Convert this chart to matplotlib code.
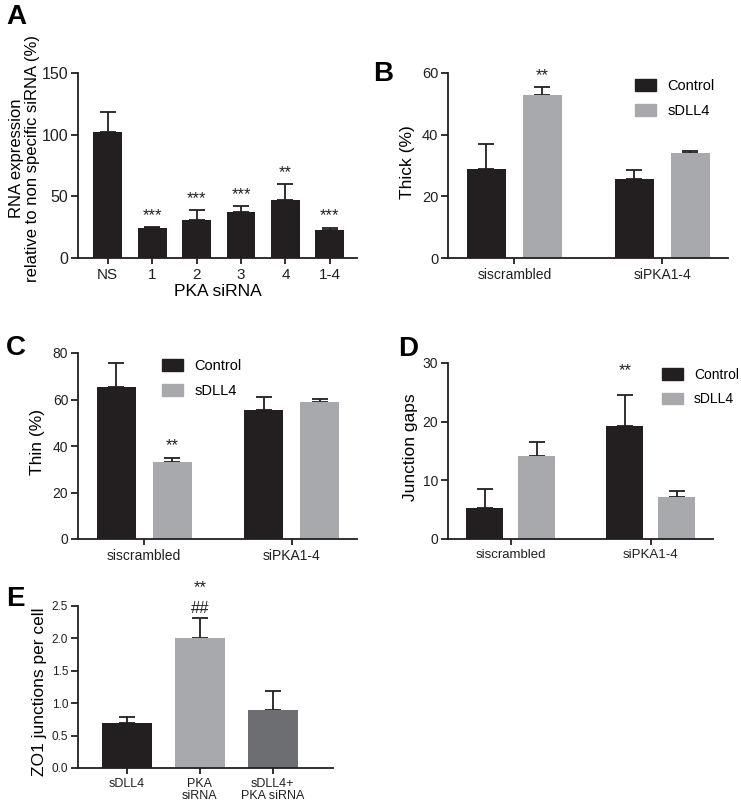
import matplotlib
matplotlib.use("Agg")
import matplotlib.pyplot as plt
from matplotlib.patches import Patch
import numpy as np

plt.rcParams['font.family'] = ['Liberation Sans', 'DejaVu Sans']

BLACK = "#231f20"
LGRAY = "#a7a9ac"
DGRAY = "#6d6e71"

# panel A
a_labels = ["NS", "1", "2", "3", "4", "1-4"]
a_vals = [102, 24, 31, 37, 47, 23]
a_err = [16, 1, 8, 5, 13, 1.5]
a_stars = ["", "***", "***", "***", "**", "***"]

# panels B-D share groups
groups = ["siscrambled", "siPKA1-4"]
series = ["Control", "sDLL4"]
b_ctrl = [29, 25.5]
b_ctrl_err = [8, 3]
b_dll4 = [53, 34]
b_dll4_err = [2.5, 0.6]
c_ctrl = [65.5, 55.5]
c_ctrl_err = [10, 5.5]
c_dll4 = [33, 59]
c_dll4_err = [2, 1.3]
d_ctrl = [5.3, 19.3]
d_ctrl_err = [3.3, 5.2]
d_dll4 = [14.2, 7.2]
d_dll4_err = [2.3, 0.9]

# panel E
e_labels = ["sDLL4", "PKA\nsiRNA", "sDLL4+\nPKA siRNA"]
e_vals = [0.7, 2.0, 0.9]
e_err = [0.09, 0.31, 0.29]

W, H = 741, 801
fig = plt.figure(figsize=(W / 100, H / 100), dpi=100)


def add_ax(x0, x1, ytop, ybot):
    return fig.add_axes([x0 / W, 1 - ybot / H, (x1 - x0) / W, (ybot - ytop) / H])


def style(ax, ysize, xsize):
    for s in ["top", "right"]:
        ax.spines[s].set_visible(False)
    for s in ["left", "bottom"]:
        ax.spines[s].set_linewidth(1.3)
        ax.spines[s].set_color(BLACK)
    ax.tick_params(axis="both", width=1.3, colors=BLACK)
    ax.tick_params(axis="y", length=5, pad=2, labelsize=ysize)
    ax.tick_params(axis="x", length=4, pad=3, labelsize=xsize)


def bars(ax, x, vals, err, color, width):
    ax.bar(x, vals, width=width, color=color, zorder=2)
    ax.errorbar(x, vals, yerr=[np.zeros(len(vals)), err], fmt="none",
                ecolor=BLACK, elinewidth=1.3, capsize=6, capthick=1.3, zorder=1)


def star(ax, x, y, s, off=2, size=12):
    ax.annotate(s, (x, y), xytext=(0, off), textcoords="offset points",
                ha="center", va="bottom", fontsize=size, color=BLACK)


def legend(ax, fx, fy, size=10.5):
    handles = [Patch(color=BLACK, label=series[0]), Patch(color=LGRAY, label=series[1])]
    ax.legend(handles=handles, loc="upper left", bbox_to_anchor=(fx / W, 1 - fy / H),
              bbox_transform=fig.transFigure, frameon=False, fontsize=size,
              handlelength=1.45 * 10.5 / size, handleheight=0.85 * 10.5 / size,
              handletextpad=0.75 * 10.5 / size,
              labelspacing=0.75, borderpad=0, borderaxespad=0)


def ylab(ax, text, xr, yc=0.5, size=12.5):
    ax.set_ylabel(text, fontsize=size, linespacing=1.15)
    ax.yaxis.set_label_coords(xr, yc)


# ---- A
ax = add_ax(78, 357, 73, 258)
xa = np.arange(len(a_labels))
bars(ax, xa, a_vals, a_err, BLACK, 0.65)
for i, s in enumerate(a_stars):
    if s:
        star(ax, xa[i], a_vals[i] + a_err[i], s, off=3)
ax.set_xlim(-0.67, 5.61)
ax.set_ylim(0, 150)
ax.set_yticks([0, 50, 100, 150])
ax.set_xticks(xa)
ax.set_xticklabels(a_labels)
ax.set_xlabel("PKA siRNA", fontsize=12.5, labelpad=2)
ylab(ax, "RNA expression\nrelative to non specific siRNA (%)", -0.135, 0.54, 12)
style(ax, 11.5, 11)

# ---- B, C, D
xg = np.arange(len(groups))
panels = [
    (add_ax(448, 728, 73, 258), b_ctrl, b_ctrl_err, b_dll4, b_dll4_err, 60, 20, "Thick (%)", 0.189, -0.118, 10.5, 10),
    (add_ax(78, 357, 353, 539), c_ctrl, c_ctrl_err, c_dll4, c_dll4_err, 80, 20, "Thin (%)", 0.19, -0.118, 10, 10),
    (add_ax(448, 713, 363, 539), d_ctrl, d_ctrl_err, d_dll4, d_dll4_err, 30, 10, "Junction gaps", 0.186, -0.113, 10, 9.5),
]
for ax, cv, ce, dv, de, ymax, step, lab, off, lx, ys, xs in panels:
    bars(ax, xg - off, cv, ce, BLACK, 0.264)
    bars(ax, xg + off, dv, de, LGRAY, 0.264)
    ax.set_xlim(-0.448, 1.443)
    ax.set_ylim(0, ymax)
    ax.set_yticks(np.arange(0, ymax + 1, step))
    ax.set_xticks(xg)
    ax.set_xticklabels(groups)
    ylab(ax, lab, lx, 0.52, 12.5)
    style(ax, ys, xs)

axB, axC, axD = panels[0][0], panels[1][0], panels[2][0]
star(axB, 0.189, b_dll4[0] + b_dll4_err[0], "**", off=3)
star(axC, 0.19, c_dll4[0] + c_dll4_err[0], "**", off=3)
star(axD, 1 - 0.186, d_ctrl[1] + d_ctrl_err[1], "**", off=12)
legend(axB, 635, 79)
legend(axC, 162, 359)
legend(axD, 662, 368, 10)

# ---- E
ax = add_ax(78, 333, 606, 768)
xe = np.arange(len(e_labels))
ax.bar(xe, e_vals, width=0.687, color=[BLACK, LGRAY, DGRAY], zorder=2)
ax.errorbar(xe, e_vals, yerr=[np.zeros(3), e_err], fmt="none", ecolor=BLACK,
            elinewidth=1.3, capsize=6, capthick=1.3, zorder=1)
ax.set_xlim(-0.674, 2.83)
ax.set_ylim(0, 2.5)
ax.set_yticks(np.arange(0, 2.51, 0.5))
ax.set_yticklabels([f"{v:.1f}" for v in np.arange(0, 2.51, 0.5)])
ax.set_xticks(xe)
ax.set_xticklabels(e_labels, linespacing=1.0)
ylab(ax, "ZO1 junctions per cell", -0.12, 0.47, 12.5)
style(ax, 8.5, 9)
star(ax, 1, e_vals[1] + e_err[1], "##", off=2)
star(ax, 1, e_vals[1] + e_err[1], "**", off=17)

# panel letters
for letter, px, py in [("A", 6, 4), ("B", 373, 61), ("C", 6, 335), ("D", 398, 336), ("E", 6, 586)]:
    fig.text(px / W, 1 - py / H, letter, fontsize=20, fontweight="bold", va="top", ha="left")

fig.savefig("out.png", dpi=100)
